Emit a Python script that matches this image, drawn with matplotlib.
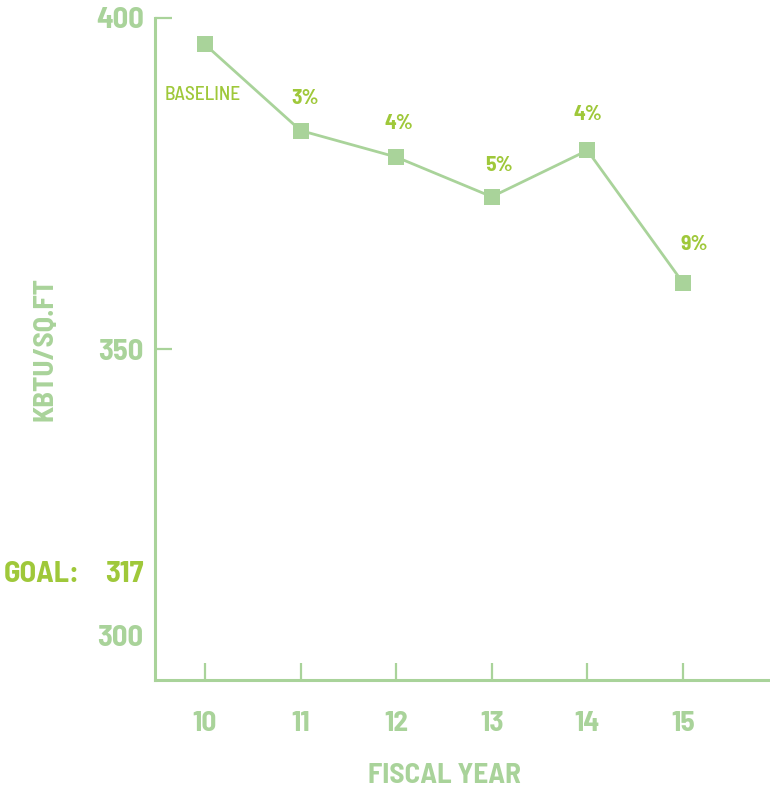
import matplotlib
matplotlib.use("Agg")
import matplotlib.pyplot as plt
import matplotlib.transforms as mtransforms

plt.rcParams['font.family'] = ['Barlow Semi Condensed', 'Barlow Condensed',
                               'Liberation Sans Narrow', 'DejaVu Sans']

# data
years = [10, 11, 12, 13, 14, 15]
kbtu = [396, 383, 379, 373, 380, 360]
labels = ['BASELINE', '3%', '4%', '5%', '4%', '9%']
y_ticks = [350, 400]
goal = 317

# label placement (pixel offsets)
label_offsets = [(-2, -51), (5, 32), (3, 34), (7, 31), (0, 36), (11, 38)]

light = '#a9d39a'
bright = '#9fc83a'

fig = plt.figure(figsize=(7.7, 7.9), dpi=100)
ax = fig.add_axes([155 / 770, 110 / 790, 615 / 770, 662 / 790])

ax.plot(years, kbtu, color=light, lw=2.0, marker='s', ms=12,
        markeredgewidth=0, zorder=3)

# percent / baseline annotations
for x, y, lab, (dx, dy) in zip(years, kbtu, labels, label_offsets):
    if lab == 'BASELINE':
        ax.annotate(lab, (x, y), xytext=(dx * 0.72, dy * 0.72),
                    textcoords='offset points', ha='center', va='center',
                    fontsize=14, fontweight=500, color=bright)
    else:
        ax.annotate(lab, (x, y), xytext=(dx * 0.72, dy * 0.72),
                    textcoords='offset points', ha='center', va='center',
                    fontsize=15.5, fontweight='bold', color=bright)

ax.set_xlim(9.477, 15.91)
ax.set_ylim(300, 400)

for s in ['top', 'right']:
    ax.spines[s].set_visible(False)
for s in ['left', 'bottom']:
    ax.spines[s].set_color(light)
    ax.spines[s].set_linewidth(2.2)

ax.set_xticks(years)
ax.set_xticklabels([str(y) for y in years])
ax.set_yticks(y_ticks)
ax.set_yticklabels([str(v) for v in y_ticks])
ax.tick_params(axis='x', direction='in', length=12, width=1.6, color=light,
               pad=22, labelsize=21, labelcolor=light)
ax.tick_params(axis='y', direction='in', length=12, width=1.6, color=light,
               pad=8, labelsize=22, labelcolor=light)
for t in ax.get_xticklabels() + ax.get_yticklabels():
    t.set_fontweight('bold')

# extra y labels: 300 and the goal
trans = mtransforms.blended_transform_factory(ax.transAxes, ax.transData)
ax.text(-0.019, 306.3, '300', transform=trans, ha='right', va='center',
        fontsize=22, fontweight='bold', color=light)
ax.text(-0.019, 316, str(goal), transform=trans, ha='right', va='center',
        fontsize=22, fontweight='bold', color=bright)
ax.text(-0.122, 316, 'GOAL:', transform=trans, ha='right', va='center',
        fontsize=22, fontweight='bold', color=bright)

ax.set_ylabel('KBTU/SQ.FT', fontsize=21, fontweight='bold', color=light)
ax.yaxis.set_label_coords(-0.158, 0.5)

transx = mtransforms.blended_transform_factory(ax.transData, ax.transAxes)
ax.text(12.5, -0.145, 'FISCAL YEAR', transform=transx, ha='center',
        va='center', fontsize=21, fontweight='bold', color=light)

fig.savefig('out.png', dpi=100)
